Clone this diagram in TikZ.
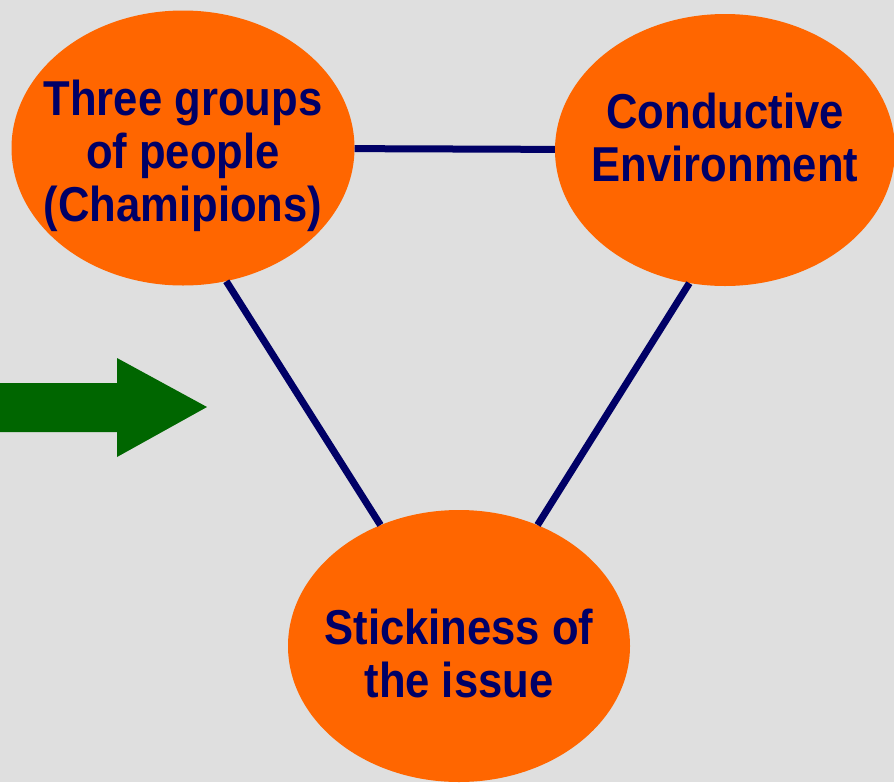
\documentclass[tikz,border=0pt]{standalone}
\usepackage{fontspec}
\setmainfont{Liberation Sans}[FakeStretch=0.89]
\usetikzlibrary{shapes}
\definecolor{paper}{HTML}{DFDFDF}
\definecolor{blobfill}{HTML}{FF6600}
\definecolor{inkblue}{HTML}{000066}
\definecolor{arrowgreen}{HTML}{006600}

\begin{document}
\begin{tikzpicture}[x=1pt,y=-1pt]
\tikzstyle{blob}=[ellipse,fill=blobfill,inner sep=0pt]
\tikzstyle{blobtext}=[text=inkblue,align=center,inner sep=0pt,font=\fontsize{49}{53}\selectfont\bfseries]
\tikzstyle{link}=[draw=inkblue,line width=7pt]
\fill[paper] (0,0) rectangle (894,782);
\useasboundingbox (0,0) rectangle (894,782);
% the three circles
\node[blob,minimum width=343,minimum height=275] (people) at (183,148) {};
\node[blob,minimum width=340,minimum height=272] (setting) at (725,150) {};
\node[blob,minimum width=342,minimum height=272] (issue) at (459,646) {};
\node[blobtext] (people-text) at ([yshift=-8pt]people) {Three groups\\of people\\(Chamipions)};
\node[blobtext] (setting-text) at ([yshift=13pt]setting) {Conductive\\Environment};
\node[blobtext] (issue-text) at ([yshift=-7pt]issue) {Stickiness of\\the issue};
\draw[link] (people) -- (setting);
\draw[link] (people.-72.5) -- (issue.123);
\draw[link] (setting.-105) -- (issue.57);
% block arrow on the left
\fill[arrowgreen] (0,383) -- (117,383) -- (117,358) -- (207,407) -- (117,457) -- (117,432) -- (0,432) -- cycle;
\end{tikzpicture}
\end{document}
